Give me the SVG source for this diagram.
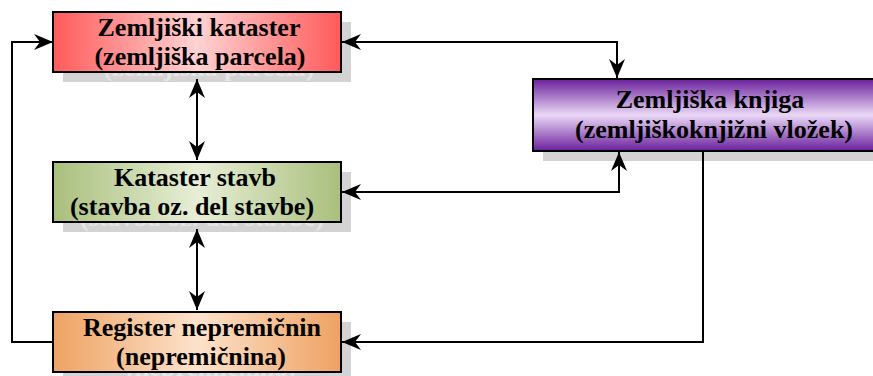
<svg xmlns="http://www.w3.org/2000/svg" width="873" height="376" viewBox="0 0 873 376">
<style>
.box{stroke:#000;stroke-width:2}
.sh{fill:#d3d3d3}
.t{font-family:"Liberation Serif","Times New Roman",serif;font-weight:bold;font-size:26px;text-anchor:middle;fill:#000}
.st{font-family:"Liberation Serif","Times New Roman",serif;font-weight:bold;font-size:26px;text-anchor:middle;fill:#e6e6e6}
.c{fill:none;stroke:#000;stroke-width:2}
</style>
<defs>
<linearGradient id="gr" x1="0" y1="0" x2="1" y2="0"><stop offset="0" stop-color="#ff5a5a"/><stop offset="0.5" stop-color="#ffd2d2"/><stop offset="1" stop-color="#ff5a5a"/></linearGradient>
<linearGradient id="gg" x1="0" y1="0" x2="1" y2="0"><stop offset="0" stop-color="#a9bf7c"/><stop offset="0.5" stop-color="#e7eed6"/><stop offset="1" stop-color="#a9bf7c"/></linearGradient>
<linearGradient id="go" x1="0" y1="0" x2="1" y2="0"><stop offset="0" stop-color="#eea262"/><stop offset="0.5" stop-color="#fde2cb"/><stop offset="1" stop-color="#eea262"/></linearGradient>
<linearGradient id="gp" x1="0" y1="0" x2="0" y2="1"><stop offset="0" stop-color="#6a1f9c"/><stop offset="0.5" stop-color="#ead8f6"/><stop offset="1" stop-color="#6a1f9c"/></linearGradient>
<marker id="a" markerUnits="userSpaceOnUse" markerWidth="24" markerHeight="20" viewBox="-20 -10 22 20" refX="0" refY="0" orient="auto-start-reverse" overflow="visible">
<path d="M0,0 L-19,-8 L-13,0 L-19,8 Z" fill="#000"/>
</marker>
</defs>
<g id="n1">
<rect class="sh" x="63" y="22" width="288" height="60"/>
<text class="st" x="209" y="76">(zemljiška parcela)</text>
<rect class="box" x="53" y="12" width="288" height="60" fill="url(#gr)"/>
<text class="t" x="199" y="36">Zemljiški kataster</text>
<text class="t" x="200" y="65">(zemljiška parcela)</text>
</g>
<g id="n2">
<rect class="sh" x="63" y="172" width="288" height="60"/>
<text class="st" x="202" y="226">(stavba oz. del stavbe)</text>
<rect class="box" x="53" y="162" width="288" height="60" fill="url(#gg)"/>
<text class="t" x="195" y="186">Kataster stavb</text>
<text class="t" x="192" y="215">(stavba oz. del stavbe)</text>
</g>
<g id="n3">
<rect class="sh" x="63" y="322" width="288" height="60"/>
<text class="st" x="211" y="376">(nepremičnina)</text>
<rect class="box" x="53" y="312" width="288" height="60" fill="url(#go)"/>
<text class="t" x="202" y="336">Register nepremičnin</text>
<text class="t" x="201" y="365">(nepremičnina)</text>
</g>
<g id="n4">
<rect class="sh" x="543" y="89" width="360" height="72"/>
<rect class="box" x="533" y="79" width="360" height="72" fill="url(#gp)"/>
<text class="t" x="710" y="108">Zemljiška knjiga</text>
<text class="t" x="714" y="138">(zemljiškoknjižni vložek)</text>
</g>
<g id="connectors">
<path class="c" d="M53,342 H12 V42 H53" marker-end="url(#a)"/>
<path class="c" d="M197,79 V160" marker-start="url(#a)" marker-end="url(#a)"/>
<path class="c" d="M197,229 V310" marker-start="url(#a)" marker-end="url(#a)"/>
<path class="c" d="M342,42 H617 V78" marker-start="url(#a)" marker-end="url(#a)"/>
<path class="c" d="M342,192 H619 V152" marker-start="url(#a)" marker-end="url(#a)"/>
<path class="c" d="M703,152 V342 H342" marker-end="url(#a)"/>
</g>
</svg>
